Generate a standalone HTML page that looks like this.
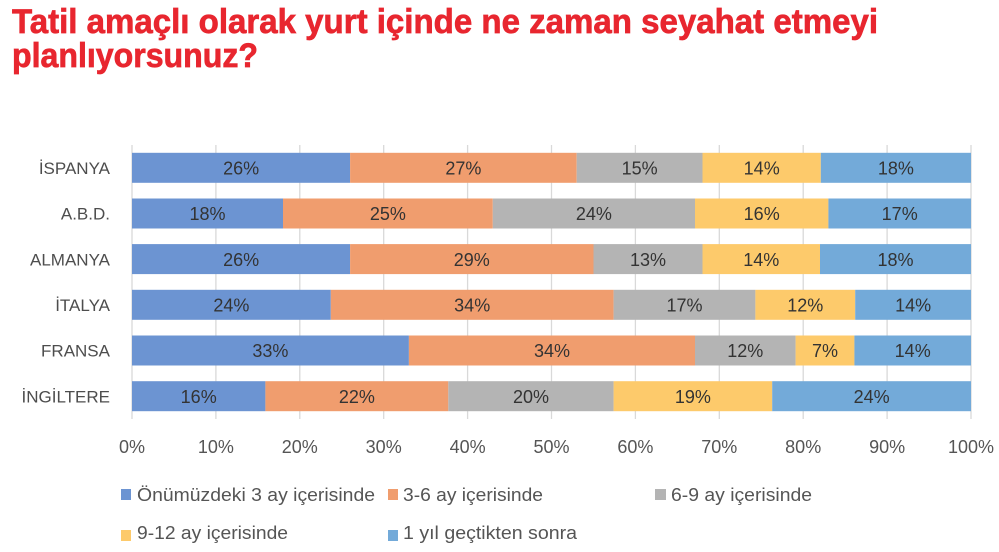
<!DOCTYPE html>
<html><head><meta charset="utf-8"><style>
html,body{margin:0;padding:0;background:#fff;}
svg{display:block;}
text{font-family:"Liberation Sans",Arial,sans-serif;}
</style></head><body>
<svg width="999" height="552" viewBox="0 0 999 552" xmlns="http://www.w3.org/2000/svg">
<rect width="999" height="552" fill="#fff"/>
<g fill="#e8262f" stroke="#e8262f" stroke-width="0.7" font-weight="bold" font-size="34">
<text x="12" y="33" textLength="866" lengthAdjust="spacingAndGlyphs">Tatil amaçlı olarak yurt içinde ne zaman seyahat etmeyi</text>
<text x="12" y="67" textLength="246" lengthAdjust="spacingAndGlyphs">planlıyorsunuz?</text>
</g>
<g stroke="#d9d9d9" stroke-width="1.3">
<line x1="132" y1="145" x2="132" y2="419"/>
<line x1="215.9" y1="145" x2="215.9" y2="419"/>
<line x1="299.8" y1="145" x2="299.8" y2="419"/>
<line x1="383.7" y1="145" x2="383.7" y2="419"/>
<line x1="467.6" y1="145" x2="467.6" y2="419"/>
<line x1="551.5" y1="145" x2="551.5" y2="419"/>
<line x1="635.4" y1="145" x2="635.4" y2="419"/>
<line x1="719.3" y1="145" x2="719.3" y2="419"/>
<line x1="803.2" y1="145" x2="803.2" y2="419"/>
<line x1="887.1" y1="145" x2="887.1" y2="419"/>
<line x1="971" y1="145" x2="971" y2="419"/>
</g>
<g>
<rect x="132" y="152.8" width="218.1" height="30" fill="#6c94d2"/>
<rect x="350.1" y="152.8" width="226.6" height="30" fill="#f09d6e"/>
<rect x="576.7" y="152.8" width="125.8" height="30" fill="#b4b4b4"/>
<rect x="702.5" y="152.8" width="118.3" height="30" fill="#fdca6b"/>
<rect x="820.8" y="152.8" width="150.2" height="30" fill="#73aad9"/>

<rect x="132" y="198.5" width="151" height="30" fill="#6c94d2"/>
<rect x="283" y="198.5" width="209.8" height="30" fill="#f09d6e"/>
<rect x="492.8" y="198.5" width="202.2" height="30" fill="#b4b4b4"/>
<rect x="695" y="198.5" width="133.4" height="30" fill="#fdca6b"/>
<rect x="828.4" y="198.5" width="142.6" height="30" fill="#73aad9"/>

<rect x="132" y="244.1" width="218.1" height="30" fill="#6c94d2"/>
<rect x="350.1" y="244.1" width="243.4" height="30" fill="#f09d6e"/>
<rect x="593.5" y="244.1" width="109" height="30" fill="#b4b4b4"/>
<rect x="702.5" y="244.1" width="117.5" height="30" fill="#fdca6b"/>
<rect x="820" y="244.1" width="151" height="30" fill="#73aad9"/>

<rect x="132" y="289.8" width="198.8" height="30" fill="#6c94d2"/>
<rect x="330.8" y="289.8" width="282.8" height="30" fill="#f09d6e"/>
<rect x="613.6" y="289.8" width="141.8" height="30" fill="#b4b4b4"/>
<rect x="755.4" y="289.8" width="99.8" height="30" fill="#fdca6b"/>
<rect x="855.2" y="289.8" width="115.8" height="30" fill="#73aad9"/>

<rect x="132" y="335.5" width="276.9" height="30" fill="#6c94d2"/>
<rect x="408.9" y="335.5" width="286.1" height="30" fill="#f09d6e"/>
<rect x="695" y="335.5" width="100.6" height="30" fill="#b4b4b4"/>
<rect x="795.6" y="335.5" width="58.8" height="30" fill="#fdca6b"/>
<rect x="854.4" y="335.5" width="116.6" height="30" fill="#73aad9"/>

<rect x="132" y="381.2" width="133.4" height="30" fill="#6c94d2"/>
<rect x="265.4" y="381.2" width="182.9" height="30" fill="#f09d6e"/>
<rect x="448.3" y="381.2" width="165.3" height="30" fill="#b4b4b4"/>
<rect x="613.6" y="381.2" width="158.6" height="30" fill="#fdca6b"/>
<rect x="772.2" y="381.2" width="198.8" height="30" fill="#73aad9"/>
</g>
<g font-size="18" fill="#333" text-anchor="middle">
<text x="241.1" y="174.5">26%</text><text x="463.4" y="174.5">27%</text><text x="639.6" y="174.5">15%</text><text x="761.7" y="174.5">14%</text><text x="895.9" y="174.5">18%</text>
<text x="207.5" y="220.2">18%</text><text x="387.9" y="220.2">25%</text><text x="593.9" y="220.2">24%</text><text x="761.7" y="220.2">16%</text><text x="899.7" y="220.2">17%</text>
<text x="241.1" y="265.8">26%</text><text x="471.8" y="265.8">29%</text><text x="648" y="265.8">13%</text><text x="761.3" y="265.8">14%</text><text x="895.5" y="265.8">18%</text>
<text x="231.4" y="311.5">24%</text><text x="472.2" y="311.5">34%</text><text x="684.5" y="311.5">17%</text><text x="805.3" y="311.5">12%</text><text x="913.1" y="311.5">14%</text>
<text x="270.4" y="357.2">33%</text><text x="552" y="357.2">34%</text><text x="745.3" y="357.2">12%</text><text x="825" y="357.2">7%</text><text x="912.7" y="357.2">14%</text>
<text x="198.7" y="402.9">16%</text><text x="356.9" y="402.9">22%</text><text x="531" y="402.9">20%</text><text x="692.9" y="402.9">19%</text><text x="871.6" y="402.9">24%</text>
</g>
<g font-size="17" fill="#4d4d4d" text-anchor="end">
<text x="110" y="174">İSPANYA</text>
<text x="110" y="219.7">A.B.D.</text>
<text x="110" y="265.3">ALMANYA</text>
<text x="110" y="311">İTALYA</text>
<text x="110" y="356.7">FRANSA</text>
<text x="110" y="402.4">İNGİLTERE</text>
</g>
<g font-size="18" fill="#555" text-anchor="middle">
<text x="132" y="453">0%</text>
<text x="215.9" y="453">10%</text>
<text x="299.8" y="453">20%</text>
<text x="383.7" y="453">30%</text>
<text x="467.6" y="453">40%</text>
<text x="551.5" y="453">50%</text>
<text x="635.4" y="453">60%</text>
<text x="719.3" y="453">70%</text>
<text x="803.2" y="453">80%</text>
<text x="887.1" y="453">90%</text>
<text x="971" y="453">100%</text>
</g>
<rect x="121" y="489" width="10" height="11" fill="#6c94d2"/>
<rect x="388" y="489" width="10" height="11" fill="#f09d6e"/>
<rect x="655" y="489" width="11" height="11" fill="#b4b4b4"/>
<rect x="121" y="530" width="10" height="11" fill="#fdca6b"/>
<rect x="388" y="530" width="10" height="11" fill="#73aad9"/>
<g font-size="18" fill="#555">
<text x="137" y="501" textLength="238" lengthAdjust="spacingAndGlyphs">Önümüzdeki 3 ay içerisinde</text>
<text x="403" y="501" textLength="140" lengthAdjust="spacingAndGlyphs">3-6 ay içerisinde</text>
<text x="671" y="501" textLength="141" lengthAdjust="spacingAndGlyphs">6-9 ay içerisinde</text>
<text x="137" y="539" textLength="151" lengthAdjust="spacingAndGlyphs">9-12 ay içerisinde</text>
<text x="403" y="539" textLength="174" lengthAdjust="spacingAndGlyphs">1 yıl geçtikten sonra</text>
</g>
</svg>
</body></html>
